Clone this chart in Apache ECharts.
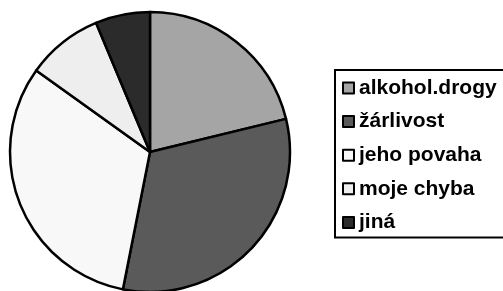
<!DOCTYPE html>
<html>
<head>
<meta charset="utf-8">
<script src="https://cdn.jsdelivr.net/npm/echarts@6/dist/echarts.min.js"></script>
<style>
  html, body { margin: 0; padding: 0; background: #fff; }
  #chart { width: 503px; height: 291px; }
</style>
</head>
<body>
<div id="chart"></div>
<script>
// podíly jednotlivých příčin (v %)
const categories = ['alkohol.drogy', 'žárlivost', 'jeho povaha', 'moje chyba', 'jiná']
const values = [21.2, 31.9, 31.8, 8.8, 6.3]
const colors = ['#a5a5a5', '#5a5a5a', '#f8f8f8', '#eeeeee', '#2b2b2b']

const chart = echarts.init(document.getElementById('chart'))

chart.setOption({
  animation: false,
  color: colors,
  legend: {
    orient: 'vertical',
    left: 335,
    top: 70,
    padding: [7, 60, 4, 7],
    borderColor: '#000',
    borderWidth: 2,
    itemGap: 11.6,
    itemWidth: 11,
    itemHeight: 11,
    icon: 'rect',
    itemStyle: { borderColor: '#000', borderWidth: 2 },
    textStyle: {
      fontFamily: 'Liberation Sans, Arial, sans-serif',
      fontWeight: 'bold',
      fontSize: 21,
      lineHeight: 22,
      color: '#000',
    },
    data: categories,
  },
  series: [
    {
      type: 'pie',
      center: [150, 152],
      radius: 140,
      startAngle: 90,
      clockwise: true,
      label: { show: false },
      labelLine: { show: false },
      emphasis: { disabled: true },
      itemStyle: { borderColor: '#000', borderWidth: 2.5 },
      data: categories.map((name, i) => ({ name, value: values[i] })),
    },
  ],
})
</script>
</body>
</html>
